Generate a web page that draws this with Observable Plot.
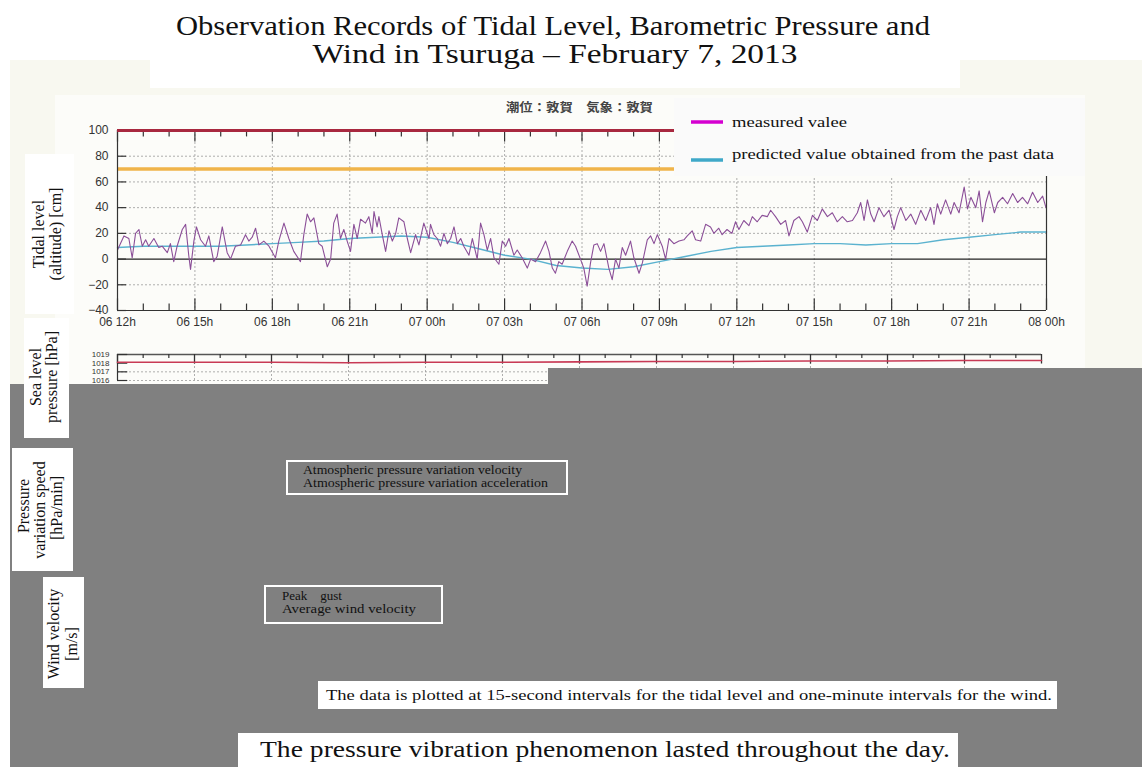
<!DOCTYPE html>
<html>
<head>
<meta charset="utf-8">
<script src="https://cdn.jsdelivr.net/npm/d3@7"></script>
<script src="https://cdn.jsdelivr.net/npm/@observablehq/plot@0.6"></script>
<style>
  html, body { margin: 0; padding: 0; }
  body { width: 1142px; height: 767px; position: relative; background: #fff; overflow: hidden; }
  .abs { position: absolute; }
</style>
</head>
<body>
<div class="abs" style="left:10px;top:60px;width:1132px;height:330px;background:#f8f8f0"></div>
<div class="abs" style="left:55px;top:95px;width:1030px;height:300px;background:#fcfcf9"></div>
<div id="tidal" class="abs" style="left:0;top:100px"></div>
<div id="press" class="abs" style="left:0;top:330px"></div>
<script>
// ---------- data ----------
const xTickHours = [0, 3, 6, 9, 12, 15, 18, 21, 24, 27, 30, 33, 36];
const xTickLabels = ["06 12h", "06 15h", "06 18h", "06 21h", "07 00h", "07 03h", "07 06h", "07 09h", "07 12h", "07 15h", "07 18h", "07 21h", "08 00h"];
const yTicks = [-40, -20, 0, 20, 40, 60, 80, 100];
const upperLevel = 100;   // red reference line
const alertLevel = 70;    // orange reference line

// measured tidal level (hours after 06 12h, cm)
const measuredHours = [0,0.25,0.44,0.57,0.70,0.83,0.96,1.09,1.21,1.41,1.60,1.73,1.93,2.05,2.18,2.31,2.51,2.64,2.76,2.83,2.96,3.06,3.22,3.41,3.54,3.73,3.86,4.06,4.25,4.38,4.57,4.77,4.96,5.09,5.22,5.35,5.48,5.67,5.87,6.12,6.25,6.45,6.64,6.83,7.09,7.22,7.35,7.48,7.61,7.80,7.93,8.13,8.26,8.38,8.51,8.64,8.77,8.90,9.03,9.16,9.29,9.42,9.61,9.74,9.87,9.94,10.06,10.13,10.26,10.39,10.52,10.65,10.78,10.90,11.10,11.23,11.36,11.55,11.68,11.87,12.07,12.13,12.26,12.39,12.52,12.65,12.78,12.91,13.04,13.17,13.30,13.42,13.62,13.75,13.94,14.07,14.20,14.33,14.46,14.59,14.78,14.91,15.04,15.17,15.36,15.49,15.68,15.88,16.01,16.20,16.39,16.59,16.72,16.85,16.97,17.10,17.23,17.43,17.62,17.75,17.94,18.07,18.20,18.33,18.46,18.59,18.72,18.85,19.04,19.17,19.30,19.43,19.56,19.69,19.88,20.01,20.21,20.34,20.53,20.66,20.79,20.92,21.11,21.24,21.37,21.56,21.76,21.95,22.08,22.27,22.40,22.60,22.79,22.98,23.11,23.30,23.43,23.62,23.81,23.95,24.08,24.27,24.47,24.60,24.79,24.98,25.18,25.31,25.50,25.70,25.89,26.02,26.21,26.41,26.54,26.73,26.93,27.12,27.31,27.51,27.70,27.89,28.09,28.28,28.48,28.67,28.80,28.93,29.06,29.19,29.32,29.51,29.70,29.90,30.09,30.22,30.35,30.55,30.74,30.93,31.13,31.32,31.51,31.64,31.77,31.90,32.09,32.29,32.42,32.61,32.81,32.94,33.07,33.26,33.39,33.52,33.65,33.78,33.98,34.11,34.30,34.49,34.69,34.88,35.07,35.27,35.46,35.66,35.85,35.98];
const measuredValues = [7,18,16,1,20,23,10,15,10,16,9,10,5,12,-2,10,23,27,3,-8,14,25,15,10,18,-2,2,25,5,0,10,11,19,14,17,24,11,14,10,1,14,28,16,6,-2,19,35,29,32,12,10,-6,0,28,35,16,23,14,6,27,16,31,28,33,20,37,25,33,19,6,22,14,20,32,29,16,5,19,11,28,16,27,19,16,10,20,12,16,25,12,16,10,3,16,0,28,19,7,16,1,-4,14,10,16,3,7,1,-7,0,-2,5,14,6,-7,-11,-2,-4,6,14,10,0,-7,-21,-3,11,12,6,12,-7,-16,0,-7,9,3,14,1,-11,-3,15,18,12,19,10,0,16,12,14,15,18,22,15,14,27,25,20,24,19,23,20,29,23,30,26,33,29,34,33,38,33,27,30,18,30,33,29,21,34,30,39,33,36,29,33,29,30,36,44,30,46,35,29,40,33,38,23,33,40,30,35,27,38,30,40,27,43,35,46,35,44,36,56,39,48,40,53,29,44,53,36,44,48,43,51,44,48,43,52,44,49,40];

// predicted tidal level (hourly)
const predictedHours = [0,1,2,3,4,5,6,7,8,9,10,11,12,13,14,15,16,17,18,19,20,21,22,23,24,25,26,27,28,29,30,31,32,33,34,35,36];
const predictedValues = [9,10,10,10,10,11,12,13,14,16,17,18,17,13,8,3,0,-5,-7,-8,-6,-2,2,6,9,10,11,12,12,11,12,12,15,17,19,21,21];

// sea level pressure (hPa, every 3 h)
const pressureHours = [0,3,6,9,12,15,18,21,24,27,30,33,36];
const pressureValues = [1018.1,1018.1,1018.1,1018.05,1018.1,1018.1,1018.15,1018.2,1018.2,1018.25,1018.25,1018.3,1018.3];
const pressureTicks = [1016, 1017, 1018, 1019];

// ---------- tidal chart ----------
const measured = measuredHours.map((h, i) => ({h, v: measuredValues[i]}));
const predicted = predictedHours.map((h, i) => ({h, v: predictedValues[i]}));
const minorHours = d3.range(0, 37).filter(h => h % 3 !== 0);
const lbl = d => xTickLabels[xTickHours.indexOf(d)];
const grid = {stroke: "#9a9a9a", strokeDasharray: "2,2", strokeOpacity: 1, strokeWidth: 0.8};

const tidal = Plot.plot({
  width: 1142, height: 240,
  marginLeft: 117, marginRight: 96, marginTop: 30, marginBottom: 30,
  style: {background: "transparent", fontFamily: "Liberation Sans, Arial, sans-serif", fontSize: "12px", color: "#333"},
  x: {domain: [0, 36], label: null},
  y: {domain: [-40, 100], label: null},
  marks: [
    Plot.gridY(yTicks.filter(d => d !== 0 && d !== -40 && d !== 100), grid),
    Plot.gridX(xTickHours.slice(1, -1), grid),
    Plot.ruleY([0], {stroke: "#222", strokeWidth: 1.2}),
    Plot.line(predicted, {x: "h", y: "v", stroke: "#5ab2cf", strokeWidth: 1.4}),
    Plot.line(measured, {x: "h", y: "v", stroke: "#8b4f98", strokeWidth: 1.1}),
    Plot.ruleY([alertLevel], {stroke: "#f0b44a", strokeWidth: 3.5}),
    Plot.ruleX([0, 36], {stroke: "#333", strokeWidth: 1.2}),
    Plot.ruleY([-40], {stroke: "#333", strokeWidth: 1.2}),
    Plot.ruleX(xTickHours, {y1: -40, y2: -31, stroke: "#333", strokeWidth: 1.2}),
    Plot.ruleX(minorHours, {y1: -40, y2: -35, stroke: "#333", strokeWidth: 1.2}),
    Plot.ruleX(xTickHours, {y1: 100, y2: 91, stroke: "#333", strokeWidth: 1.2}),
    Plot.ruleX(minorHours, {y1: 100, y2: 95, stroke: "#333", strokeWidth: 1.2}),
    Plot.ruleY(yTicks, {x1: 0, x2: 0.35, stroke: "#333", strokeWidth: 1.2}),
    Plot.ruleY([upperLevel], {stroke: "#a8283f", strokeWidth: 3}),
    Plot.axisX(xTickHours, {tickSize: 0, tickPadding: 7, tickFormat: lbl, fill: "#333", label: null}),
    Plot.axisY(yTicks, {tickSize: 0, tickPadding: 9, fill: "#333", label: null})
  ]
});
document.getElementById("tidal").appendChild(tidal);

// ---------- sea level pressure strip ----------
const pressure = pressureHours.map((h, i) => ({h, p: pressureValues[i]}));
const press = Plot.plot({
  width: 1142, height: 60,
  marginLeft: 117, marginRight: 101, marginTop: 24, marginBottom: 10,
  style: {background: "transparent", fontFamily: "Liberation Sans Narrow, Liberation Sans, Arial, sans-serif", fontSize: "8px", color: "#333"},
  x: {domain: [0, 36], axis: null, label: null},
  y: {domain: [1016, 1019], label: null},
  marks: [
    Plot.gridY([1016, 1017], grid),
    Plot.ruleX(xTickHours.slice(1, -1), {y1: 1016, y2: 1018.4, ...grid}),
    Plot.ruleX([0], {stroke: "#333", strokeWidth: 1.2}),
    Plot.ruleY([1019], {stroke: "#555", strokeWidth: 1.5}),
    Plot.ruleX(xTickHours, {y1: 1019, y2: 1017.9, stroke: "#333", strokeWidth: 1.3}),
    Plot.ruleX(minorHours, {y1: 1019, y2: 1018.55, stroke: "#333", strokeWidth: 1.2}),
    Plot.ruleY(pressureTicks, {x1: 0, x2: 0.4, stroke: "#333", strokeWidth: 1.2}),
    Plot.line(pressure, {x: "h", y: "p", stroke: "#c83a55", strokeWidth: 1.6}),
    Plot.axisY(pressureTicks, {tickSize: 0, tickPadding: 8, tickFormat: d => String(d), fill: "#333", label: null})
  ]
});
document.getElementById("press").appendChild(press);

// ---------- overlay: title, legend, labels, masks ----------
const svg = d3.select("body").append("svg")
  .attr("width", 1142).attr("height", 767)
  .style("position", "absolute").style("left", 0).style("top", 0);
const serif = "Liberation Serif, DejaVu Serif, serif";

function txt(x, y, s, size, opts = {}) {
  const t = svg.append("text").attr("x", x).attr("y", y).text(s)
    .attr("font-family", opts.family || serif).attr("font-size", size)
    .attr("fill", opts.fill || "#111");
  if (opts.anchor) t.attr("text-anchor", opts.anchor);
  if (opts.len) t.attr("textLength", opts.len).attr("lengthAdjust", "spacingAndGlyphs");
  if (opts.weight) t.attr("font-weight", opts.weight);
  if (opts.rotate) t.attr("transform", `rotate(-90 ${x} ${y})`);
  return t;
}
function rect(x, y, w, h, fill, stroke) {
  const r = svg.append("rect").attr("x", x).attr("y", y).attr("width", w).attr("height", h).attr("fill", fill);
  if (stroke) r.attr("stroke", stroke).attr("stroke-width", 2);
  return r;
}

// title
rect(150, 0, 810, 88, "#fff");
txt(553, 35, "Observation Records of Tidal Level, Barometric Pressure and", 27, {anchor: "middle", len: 754});
txt(555, 63, "Wind in Tsuruga \u2013 February 7, 2013", 27, {anchor: "middle", len: 485});

// station header
txt(506, 112, "潮位：敦賀　気象：敦賀", 12, {family: "Noto Sans CJK JP, sans-serif", fill: "#444", weight: 700, len: 147});

// legend
rect(674, 98, 411, 78, "#fafafa");
svg.append("line").attr("x1", 691).attr("x2", 723).attr("y1", 122).attr("y2", 122).attr("stroke", "#d400d0").attr("stroke-width", 3.5);
svg.append("line").attr("x1", 691).attr("x2", 723).attr("y1", 160).attr("y2", 160).attr("stroke", "#3fa8c8").attr("stroke-width", 3.5);
txt(732, 127, "measured valee", 15, {len: 115});
txt(732, 159, "predicted value obtained from the past data", 15, {len: 322});

// gray mask
rect(10, 384, 1132, 383, "#808080");
rect(548, 368, 594, 17, "#808080");

// rotated axis labels
rect(25, 154, 49, 160, "#fff");
txt(44, 234, "Tidal level", 16, {anchor: "middle", rotate: true});
txt(61, 234, "(altitude) [cm]", 16, {anchor: "middle", rotate: true});
rect(24, 318, 45, 120, "#fff");
txt(41, 377, "Sea level", 16, {anchor: "middle", rotate: true});
txt(57, 377, "pressure [hPa]", 16, {anchor: "middle", rotate: true});
rect(12, 448, 61, 123, "#fff");
txt(29, 506, "Pressure", 16, {anchor: "middle", rotate: true});
txt(45, 510, "variation speed", 16, {anchor: "middle", rotate: true});
txt(62, 508, "[hPa/min]", 16, {anchor: "middle", rotate: true});
rect(43, 577, 41, 111, "#fff");
txt(59, 634, "Wind velocity", 16, {anchor: "middle", rotate: true});
txt(77, 644, "[m/s]", 16, {anchor: "middle", rotate: true});

// legend boxes inside the gray area
rect(287, 461, 280, 33, "none", "#fff");
txt(303, 474, "Atmospheric pressure variation velocity", 13, {len: 219});
txt(303, 487, "Atmospheric pressure variation acceleration", 13, {len: 245});
rect(265, 586, 177, 37, "none", "#fff");
txt(282, 600, "Peak\u2003gust", 13);
txt(282, 613, "Average wind velocity", 13, {len: 134});

// notes
rect(318, 681, 739, 28, "#fff");
txt(326, 700, "The data is plotted at 15-second intervals for the tidal level and one-minute intervals for the wind.", 14, {len: 726});
rect(238, 733, 720, 34, "#fff");
txt(260, 757, "The pressure vibration phenomenon lasted throughout the day.", 24, {len: 690});
</script>
</body>
</html>
